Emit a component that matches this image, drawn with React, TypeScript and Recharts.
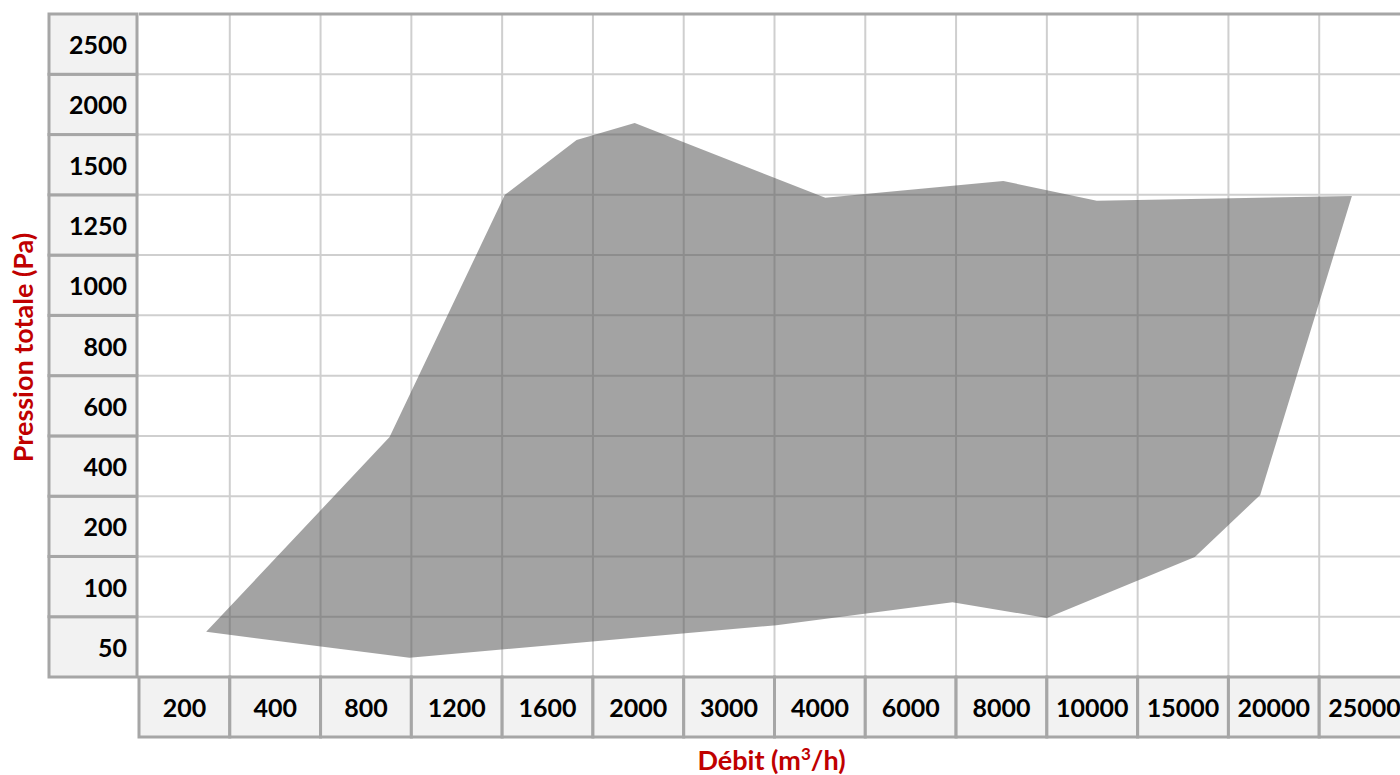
import React from 'react';
import {
  ComposedChart,
  Scatter,
  XAxis,
  YAxis,
  CartesianGrid,
  ReferenceLine,
  Polygon,
} from 'recharts';

const flowLabels = [
  '200', '400', '800', '1200', '1600', '2000', '3000',
  '4000', '6000', '8000', '10000', '15000', '20000', '25000',
];
const pressureLabels = ['50', '100', '200', '400', '600', '800', '1000', '1250', '1500', '2000', '2500'];

// outline of the working range, in grid cells (column from left, row from bottom)
const envelopeFlow = [0.74, 2.76, 4.03, 4.82, 5.46, 7.56, 9.52, 10.55, 13.36, 12.35, 11.63, 10.0, 8.96, 7.02, 2.98];
const envelopePressure = [0.75, 3.98, 8.0, 8.91, 9.19, 7.95, 8.23, 7.9, 7.98, 3.02, 1.99, 0.98, 1.24, 0.86, 0.32];

const envelope = envelopeFlow.map((x, i) => ({ x, y: envelopePressure[i] }));
const xTicks = flowLabels.map((_, i) => i + 0.5);
const yTicks = pressureLabels.map((_, i) => i + 0.5);
const xLines = flowLabels.slice(1).map((_, i) => i + 1);
const yLines = pressureLabels.slice(1).map((_, i) => i + 1);

const WIDTH = 1420;
const HEIGHT = 775;
const MARGIN = { top: 14, right: 10, bottom: 0, left: 0 };
const Y_AXIS_W = 139;
const X_AXIS_H = 98;
const COL = (WIDTH - MARGIN.right - Y_AXIS_W) / flowLabels.length;
const ROW = (HEIGHT - MARGIN.top - X_AXIS_H) / pressureLabels.length;
const PLOT_BOTTOM = HEIGHT - X_AXIS_H;

const cellFill = '#f2f2f2';
const cellStroke = '#a6a6a6';
const titleColor = '#c00000';
const font = 'Lato, "Open Sans", sans-serif';

const YCell = (props: any) => {
  const { y, payload } = props;
  const label = pressureLabels[Math.floor(payload.value)];
  return (
    <g>
      <rect x={49} y={y - ROW / 2} width={88} height={ROW} fill={cellFill} stroke={cellStroke} strokeWidth={3} />
      <text
        x={127}
        y={y}
        textAnchor="end"
        dominantBaseline="central"
        fontFamily={font}
        fontWeight={700}
        fontSize={25}
        fill="#000"
      >
        {label}
      </text>
    </g>
  );
};

const XCell = (props: any) => {
  const { x, payload } = props;
  const label = flowLabels[Math.floor(payload.value)];
  return (
    <g>
      <rect x={x - COL / 2} y={PLOT_BOTTOM} width={COL} height={60} fill={cellFill} stroke={cellStroke} strokeWidth={3} />
      <text
        x={x}
        y={PLOT_BOTTOM + 30}
        textAnchor="middle"
        dominantBaseline="central"
        fontFamily={font}
        fontWeight={700}
        fontSize={25}
        fill="#000"
      >
        {label}
      </text>
    </g>
  );
};

const yTitle = (props: any) => {
  const { viewBox } = props;
  const cy = viewBox.y + viewBox.height / 2 + 2;
  return (
    <text
      x={22}
      y={cy}
      transform={`rotate(-90, 22, ${cy})`}
      textAnchor="middle"
      dominantBaseline="central"
      fontFamily={font}
      fontWeight={700}
      fontSize={27}
      fill={titleColor}
    >
      Pression totale (Pa)
    </text>
  );
};

const xTitle = (props: any) => {
  const { viewBox } = props;
  const cx = viewBox.x + viewBox.width / 2 - 3;
  return (
    <text x={cx} y={770} textAnchor="middle" fontFamily={font} fontWeight={700} fontSize={27} fill={titleColor}>
      Débit (m
      <tspan dy={-10} fontSize={17}>3</tspan>
      <tspan dy={10}>/h)</tspan>
    </text>
  );
};

// draw the scatter points as one filled outline instead of a line
const envelopeShape = (props: any) => (
  <Polygon points={props.points} fill="#555555" fillOpacity={0.54} stroke="none" />
);

const noDot = () => <g />;

export default function App() {
  return (
    <div
      style={{
        position: 'fixed',
        left: 0,
        top: 0,
        width: 1400,
        height: 775,
        overflow: 'hidden',
        background: '#fff',
      }}
    >
      <ComposedChart width={WIDTH} height={HEIGHT} margin={MARGIN}>
        <CartesianGrid
          stroke="#cfcfcf"
          strokeWidth={2}
          verticalValues={xLines}
          horizontalValues={yLines}
          fill="none"
        />
        <XAxis
          type="number"
          dataKey="x"
          domain={[0, flowLabels.length]}
          ticks={xTicks}
          interval={0}
          tick={<XCell />}
          tickLine={false}
          axisLine={false}
          height={X_AXIS_H}
          allowDataOverflow
          label={{ content: xTitle }}
        />
        <YAxis
          type="number"
          dataKey="y"
          domain={[0, pressureLabels.length]}
          ticks={yTicks}
          interval={0}
          tick={<YCell />}
          tickLine={false}
          axisLine={false}
          width={Y_AXIS_W}
          allowDataOverflow
          label={{ content: yTitle }}
        />
        <Scatter
          data={envelope}
          line={envelopeShape}
          lineType="joint"
          shape={noDot}
          isAnimationActive={false}
        />
        <ReferenceLine y={pressureLabels.length} stroke={cellStroke} strokeWidth={3} />
      </ComposedChart>
    </div>
  );
}
